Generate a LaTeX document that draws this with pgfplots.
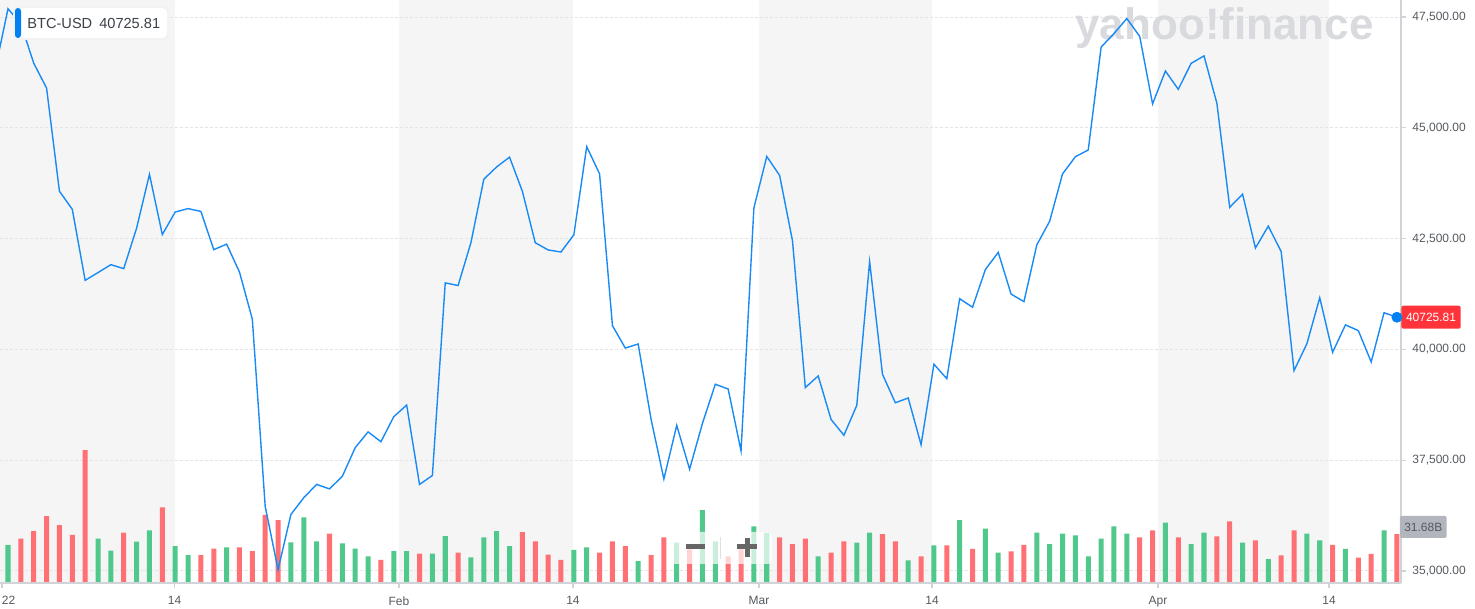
\documentclass[border=0pt]{standalone}
\usepackage{pgfplots}
\pgfplotsset{compat=1.18}
\usepackage{pgfplotstable}
\usepackage{fontspec}
\setmainfont{Liberation Sans}

\definecolor{linebl}{RGB}{24,138,245}
\definecolor{dotbl}{RGB}{0,129,242}
\definecolor{upg}{RGB}{80,200,140}
\definecolor{dnr}{RGB}{255,112,116}
\definecolor{band}{RGB}{245,245,245}
\definecolor{gridc}{RGB}{228,228,228}
\definecolor{axc}{RGB}{208,211,216}
\definecolor{txt}{RGB}{85,90,96}
\definecolor{boxtxt}{RGB}{60,65,72}
\definecolor{pricered}{RGB}{255,51,58}
\definecolor{volgray}{RGB}{178,182,188}
\definecolor{wm}{RGB}{216,218,222}

% daily close, x = bar index (0 = 1 Jan 2022)
\pgfplotstableread{
k close
-1 46306
0 47686
1 47345
2 46458
3 45897
4 43569
5 43160
6 41558
7 41734
8 41912
9 41822
10 42736
11 43949
12 42592
13 43099
14 43177
15 43113
16 42250
17 42375
18 41745
19 40680
20 36458
21 35030
22 36276
23 36654
24 36954
25 36852
26 37138
27 37784
28 38138
29 37917
30 38483
31 38744
32 36953
33 37155
34 41501
35 41441
36 42412
37 43840
38 44118
39 44338
40 43565
41 42407
42 42244
43 42197
44 42586
45 44575
46 43961
47 40538
48 40030
49 40122
50 38431
51 37075
52 38286
53 37296
54 38332
55 39214
56 39106
57 37709
58 43193
59 44354
60 43925
61 42452
62 39138
63 39401
64 38420
65 38062
66 38737
67 41982
68 39437
69 38795
70 38904
71 37849
72 39666
73 39339
74 41144
75 40951
76 41801
77 42190
78 41247
79 41078
80 42358
81 42893
82 43960
83 44348
84 44500
85 46820
86 47128
87 47465
88 47063
89 45539
90 46282
91 45868
92 46454
93 46623
94 45556
95 43206
96 43503
97 42287
98 42782
99 42207
100 39521
101 40127
102 41166
103 39935
104 40553
105 40424
106 39717
107 40827
108 40725.81
}\price

% volume in billions, days that closed up
\pgfplotstableread{
k vol
0 24.6
7 28.7
8 20.9
10 26.8
11 34.1
13 23.9
14 18.0
17 23.1
22 26.3
23 42.4
24 27.0
26 25.6
27 22.2
28 17.3
30 20.7
31 20.7
33 19.0
34 30.4
36 16.6
37 29.5
38 33.6
39 23.9
44 21.4
45 23.1
49 14.1
52 26.1
54 47.2
55 27.0
58 36.7
59 32.4
63 17.3
66 26.1
67 32.6
70 14.7
72 24.4
74 40.6
76 35.2
77 19.6
80 32.6
81 25.2
82 31.9
83 30.8
84 17.3
85 28.7
86 36.7
87 31.9
90 39.0
92 25.2
93 32.6
96 26.1
98 15.5
101 31.9
102 27.6
104 22.0
107 34.1
}\volup

% days that closed down
\pgfplotstableread{
k vol
1 28.7
2 33.6
3 43.3
4 37.5
5 31.2
6 86.0
9 32.6
12 48.9
15 18.0
16 22.2
18 23.1
19 20.7
20 44.1
21 40.7
25 31.9
29 14.9
32 19.0
35 19.7
40 32.9
41 27.0
42 18.3
43 14.9
46 19.7
47 27.0
48 23.9
50 18.0
51 29.5
53 21.8
56 17.3
57 21.8
60 29.5
61 25.2
62 28.7
64 19.6
65 27.0
68 31.7
69 27.0
71 17.3
73 24.4
75 22.1
78 20.5
79 24.6
88 29.5
89 34.1
91 29.5
94 30.2
95 39.9
97 27.6
99 17.9
100 34.1
103 24.6
105 16.4
106 18.8
108 31.68
}\voldn

\pgfplotsset{
  base/.style={at={(0,0)}, anchor=south west, scale only axis,
    width=700.5pt, height=291.5pt, xmin=-0.622, xmax=108.32},
}

\begin{document}
\begin{tikzpicture}[font=\fontsize{6}{7}\selectfont]
\useasboundingbox (0,-13pt) rectangle (737.5pt,291.5pt);

% shaded half-months and grid
\begin{axis}[base, ymin=34729, ymax=47884, hide axis]
  \fill[band] (axis cs:-0.622,34729) rectangle (axis cs:12.95,47884);
  \fill[band] (axis cs:30.40,34729) rectangle (axis cs:43.93,47884);
  \fill[band] (axis cs:58.40,34729) rectangle (axis cs:71.85,47884);
  \fill[band] (axis cs:89.42,34729) rectangle (axis cs:102.72,47884);
  \pgfplotsinvokeforeach{35000,37500,40000,42500,45000,47500}{
    \draw[gridc, line width=0.5pt, dash pattern=on 1.5pt off 1pt]
      (axis cs:-0.622,#1) -- (axis cs:108.32,#1);
  }
\end{axis}

% watermark
\begin{scope}[x=0.5pt, y=-0.5pt, yshift=291.5pt]
  \node[anchor=base west, inner sep=0pt, text=wm,
        font=\fontsize{22}{22}\selectfont\bfseries] at (1075,40) {yahoo!finance};
\end{scope}

% volume
\begin{axis}[base, ymin=0, ymax=377.2, hide axis]
  \addplot[ybar, bar width=0.39, bar shift=0pt, fill=upg, draw=none] table[x=k, y=vol] {\volup};
  \addplot[ybar, bar width=0.39, bar shift=0pt, fill=dnr, draw=none] table[x=k, y=vol] {\voldn};
\end{axis}

% price
\begin{axis}[base, ymin=34729, ymax=47884, clip=false,
  axis x line*=bottom, axis y line*=right,
  axis line style={axc, line width=0.75pt},
  tick style={axc, line width=0.6pt},
  tick align=outside, major tick length=2.5pt,
  xtick={-0.47,12.95,30.40,43.93,58.40,71.85,89.42,102.72},
  xticklabels={\hphantom{20}22,14,Feb,14,Mar,14,Apr,14},
  ytick={35000,37500,40000,42500,45000,47500},
  scaled y ticks=false,
  ticklabel style={text=txt, font=\fontsize{6}{7}\selectfont},
  xticklabel style={anchor=north, inner sep=0pt, yshift=-4pt},
  yticklabel style={anchor=west, inner sep=0pt, xshift=3pt,
    /pgf/number format/.cd, fixed, fixed zerofill, precision=2,
    1000 sep={,}, assume math mode=true},
]
  \addplot[linebl, line width=0.7pt] table[x=k, y=close] {\price};
  \addplot[only marks, mark=*, mark size=2.5pt, dotbl] coordinates {(108,40725.81)};
  \node[fill=pricered, text=white, rounded corners=1pt, anchor=west,
        inner xsep=2.3pt, inner ysep=0pt, minimum height=11.5pt]
        at (axis cs:108.32,40725.81) {40725.81};
  \node[fill=volgray, text=txt, rounded corners=1pt, anchor=west,
        inner xsep=2.2pt, inner ysep=0pt, minimum height=11pt]
        at (axis cs:108.2,35993) {31.68B};
\end{axis}

% overlays: quote box and zoom buttons
\begin{scope}[x=0.5pt, y=-0.5pt, yshift=291.5pt]
  \fill[black!5, rounded corners=3pt] (13,6) rectangle (169,40);
  \fill[white, rounded corners=2.5pt] (15,8) rectangle (167,38);
  \fill[dotbl, rounded corners=1.5pt] (15,8) rectangle (21,38);
  \node[anchor=west, inner sep=0pt, text=boxtxt, font=\fontsize{7.3}{8}\selectfont]
    at (27,23) {BTC-USD\hspace{3.5pt}40725.81};
  \fill[white, opacity=0.7, rounded corners=2pt] (670,532) rectangle (772,564);
  \draw[black!12, line width=0.5pt] (720,537) -- (720,559);
  \draw[black!60, line width=2.5pt] (686,547) -- (705,547);
  \draw[black!60, line width=2.5pt] (737,547) -- (757,547);
  \draw[black!60, line width=2.5pt] (747,538) -- (747,557);
\end{scope}
\end{tikzpicture}
\end{document}
